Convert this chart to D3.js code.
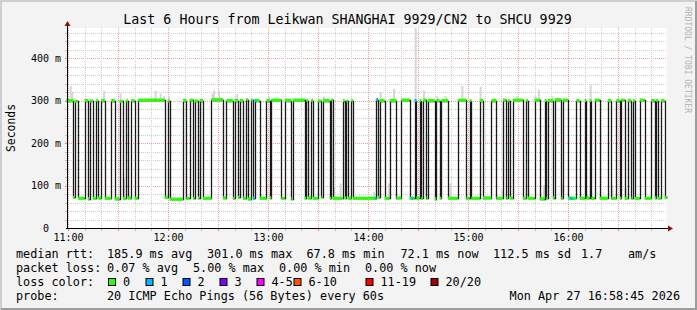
<!DOCTYPE html>
<html>
<head>
<meta charset="utf-8">
<script src="https://cdn.jsdelivr.net/npm/d3@7"></script>
<style>
body { margin: 0; background: #f3f3f3; }
svg { display: block; }
text { font-family: "DejaVu Sans Mono", monospace; fill: #000; }
</style>
</head>
<body>
<script>
const width = 697
const height = 310
const plotLeft = 67
const plotRight = 667
const plotTop = 28
const plotBottom = 228

// minutes after 11:00 where the median changes, and the median from there on (ms)
const stepMinute = [-1, 3, 4, 6, 10, 12, 13, 15, 17, 18,
    20, 22, 26, 28, 31, 33, 35, 36, 38, 40,
    42, 58, 60, 61, 69, 71, 73, 75, 76, 78,
    79, 81, 86, 93, 95, 99, 100, 102, 103, 105,
    107, 108, 110, 111, 112, 115, 119, 121, 122, 128,
    130, 134, 135, 142, 143, 144, 146, 147, 150, 152,
    153, 157, 158, 159, 165, 166, 167, 168, 170, 171,
    185, 186, 187, 190, 193, 197, 200, 205, 208, 209,
    211, 212, 213, 215, 216, 220, 221, 223, 224, 228,
    234, 239, 241, 242, 247, 249, 254, 257, 261, 263,
    264, 265, 267, 273, 275, 276, 280, 283, 286, 287,
    288, 291, 292, 296, 297, 300, 305, 307, 310, 311,
    313, 314, 316, 319, 324, 326, 329, 331, 332, 334,
    336, 338, 339, 340, 343, 346, 350, 352, 353, 354,
    356, 358]
const medianMs = [300, 72, 298, 70, 300, 69, 299, 70, 300, 71,
    300, 70, 300, 69, 298, 70, 299, 71, 300, 70,
    301, 72, 299, 68, 300, 70, 301, 70, 299, 71,
    300, 70, 302, 71, 300, 70, 300, 72, 300, 70,
    302, 69, 301, 70, 300, 70, 300, 71, 301, 70,
    300, 69, 301, 70, 300, 71, 300, 70, 299, 72,
    300, 70, 301, 70, 300, 71, 299, 70, 300, 70,
    302, 72, 300, 70, 300, 71, 301, 70, 300, 71,
    300, 70, 301, 70, 300, 69, 300, 70, 300, 70,
    301, 70, 300, 70, 300, 71, 300, 70, 301, 70,
    300, 71, 301, 70, 300, 70, 301, 69, 300, 70,
    300, 71, 302, 70, 301, 70, 300, 70, 300, 71,
    300, 70, 301, 70, 300, 70, 300, 70, 301, 70,
    300, 70, 300, 70, 301, 70, 300, 71, 300, 70,
    300, 72]
const endMinute = 359.4

// minutes with lost pings
const lossMinute = [111, 112, 184, 185, 206, 208, 301, 302]
const lossCount = [1, 1, 1, 1, 1, 1, 1, 1]

// smoke: highest ping of the minute (ms)
const smokeMinute = [1, 2, 21, 31, 35, 52, 55, 57, 60, 86, 87, 90, 101, 120, 123, 131, 146, 153,
    187, 195, 208, 213, 221, 226, 236, 247, 255, 269, 280, 282, 290, 313, 336, 353,
    33, 159, 163, 183, 192, 229, 260, 285, 296, 326, 334]
const smokeTopMs = [334, 320, 323, 317, 305, 323, 316, 310, 310, 316, 323, 323, 315, 310, 305, 305, 305, 310,
    320, 327, 470, 323, 310, 310, 334, 332, 305, 310, 312, 325, 310, 336, 305, 303,
    117, 97, 105, 85, 105, 105, 89, 101, 101, 101, 93]

const yTicks = [0, 100, 200, 300, 400]
const yTickLabels = ['0', '100 m', '200 m', '300 m', '400 m']
const xTickHours = [11, 12, 13, 14, 15, 16]

const lossLabels = ['0', '1', '2', '3', '4-5', '6-10', '11-19', '20/20']
const lossColors = ['#26ff00', '#00b8ff', '#0059ff', '#7e00ff', '#ff00ff', '#ff5500', '#ff0000', '#a10000']
const lossLabelX = [108, 145.5, 182.5, 219.5, 256.5, 293.5, 365.5, 430.5]

const rttLegend = ['185.9 ms avg', '301.0 ms max', '67.8 ms min', '72.1 ms now', '112.5 ms sd', '1.7', 'am/s']
const rttLegendX = [107, 207, 306.5, 400.5, 493, 581, 628]
const lossLegend = ['0.07 % avg', '5.00 % max', '0.00 % min', '0.00 % now']
const lossLegendX = [107, 193, 279, 365]

const x = d3.scaleLinear().domain([-0.6, endMinute]).range([plotLeft, plotRight])
const y = d3.scaleLinear().domain([0, 470.6]).range([plotBottom, plotTop])
const crisp = v => Math.round(v) + 0.5

const svg = d3.select('body').append('svg')
    .attr('width', width)
    .attr('height', height)

// frame
svg.append('rect').attr('width', width).attr('height', height).attr('fill', '#f3f3f3')
svg.append('path').attr('d', `M1,${height}V1H${width}`).attr('fill', 'none').attr('stroke', '#cfcfcf').attr('stroke-width', 2)
svg.append('path').attr('d', `M1,${height - 1}H${width - 1}V1`).attr('fill', 'none').attr('stroke', '#9c9c9c').attr('stroke-width', 2)

svg.append('rect')
    .attr('x', plotLeft).attr('y', plotTop)
    .attr('width', plotRight - plotLeft).attr('height', plotBottom - plotTop)
    .attr('fill', '#fff')

// grid
const grid = svg.append('g').attr('stroke-dasharray', '1,1').attr('stroke-width', 1)
for (let ms = 20; ms < 470; ms += 20) {
    const major = ms % 100 == 0
    grid.append('line')
        .attr('x1', plotLeft).attr('x2', plotRight)
        .attr('y1', crisp(y(ms))).attr('y2', crisp(y(ms)))
        .attr('stroke', major ? '#f4a0a0' : '#cfcfcf')
}
for (let m = 0; m < endMinute; m += 10) {
    const major = m % 30 == 0
    grid.append('line')
        .attr('x1', crisp(x(m))).attr('x2', crisp(x(m)))
        .attr('y1', plotTop).attr('y2', plotBottom)
        .attr('stroke', major ? '#f4a0a0' : '#cfcfcf')
}

const plot = svg.append('g')

function medianAt(m) {
    let v = medianMs[0]
    stepMinute.forEach((s, i) => { if (s <= m) v = medianMs[i] })
    return v
}

// smoke
plot.selectAll('rect.smoke')
    .data(smokeMinute.map((m, i) => ({m, top: smokeTopMs[i]})))
    .enter().append('rect')
    .attr('class', 'smoke')
    .attr('x', d => x(d.m))
    .attr('width', d => x(d.m + 1.2) - x(d.m))
    .attr('y', d => y(d.top))
    .attr('height', d => y(medianAt(d.m)) - y(d.top))
    .attr('fill', '#d6d6d6')

const points = stepMinute.map((m, i) => ({m, v: medianMs[i]}))
points.push({m: endMinute, v: medianMs[medianMs.length - 1]})

// median line, snapped to whole pixels like rrdtool
plot.append('path')
    .datum(points)
    .attr('d', d3.line().x(d => crisp(x(d.m))).y(d => crisp(y(d.v))).curve(d3.curveStepAfter))
    .attr('fill', 'none')
    .attr('stroke', '#1a1a1a')
    .attr('stroke-width', 1.3)

const swidth = 3.6
plot.selectAll('rect.band')
    .data(points.slice(0, -1))
    .enter().append('rect')
    .attr('class', 'band')
    .attr('x', d => x(d.m))
    .attr('width', (d, i) => x(points[i + 1].m) - x(d.m))
    .attr('y', d => y(d.v + swidth))
    .attr('height', d => y(d.v - swidth) - y(d.v + swidth))
    .attr('fill', lossColors[0])

plot.selectAll('rect.loss')
    .data(lossMinute.map((m, i) => ({m, n: lossCount[i]})))
    .enter().append('rect')
    .attr('class', 'loss')
    .attr('x', d => x(d.m))
    .attr('width', d => x(d.m + 1) - x(d.m))
    .attr('y', d => y(medianAt(d.m) + swidth))
    .attr('height', d => y(0) - y(2 * swidth))
    .attr('fill', d => lossColors[d.n])

// axes
svg.append('line').attr('x1', plotLeft - 1).attr('x2', plotRight + 2)
    .attr('y1', plotBottom + 0.5).attr('y2', plotBottom + 0.5).attr('stroke', '#000')
svg.append('line').attr('x1', plotLeft + 0.5).attr('x2', plotLeft + 0.5)
    .attr('y1', plotBottom + 1).attr('y2', plotTop - 3).attr('stroke', '#000')
svg.append('path').attr('d', `M${plotLeft + 0.5},${plotTop - 7}l-3,5h6z`).attr('fill', '#8a1010')
svg.append('path').attr('d', `M${plotRight + 6},${plotBottom + 0.5}l-5,-3v6z`).attr('fill', '#8a1010')

// small ticks
for (let m = 0; m < endMinute; m += 10) {
    svg.append('line')
        .attr('x1', crisp(x(m))).attr('x2', crisp(x(m)))
        .attr('y1', plotBottom + 1).attr('y2', plotBottom + 3)
        .attr('stroke', m % 30 == 0 ? '#f08080' : '#bbb')
}
for (let ms = 20; ms < 470; ms += 20) {
    svg.append('line')
        .attr('x1', plotLeft - 2).attr('x2', plotLeft)
        .attr('y1', crisp(y(ms))).attr('y2', crisp(y(ms)))
        .attr('stroke', ms % 100 == 0 ? '#f08080' : '#bbb')
}

// labels are right aligned on "400 m"; a bare "0" sits in the digit column
svg.selectAll('text.ytick')
    .data(yTicks)
    .enter().append('text')
    .attr('class', 'ytick')
    .attr('x', d => d == 0 ? 61 - 2 * 6.02 : 61)
    .attr('y', d => y(d) + 3.5)
    .attr('text-anchor', 'end')
    .attr('font-size', 10)
    .text((d, i) => yTickLabels[i])

svg.selectAll('text.xtick')
    .data(xTickHours)
    .enter().append('text')
    .attr('class', 'xtick')
    .attr('x', d => x((d - 11) * 60) + 0.5)
    .attr('y', 240.5)
    .attr('text-anchor', 'middle')
    .attr('font-size', 10)
    .text(d => d + ':00')

// titles
svg.append('text')
    .attr('x', 347.5).attr('y', 24)
    .attr('text-anchor', 'middle')
    .attr('font-size', 13.3)
    .text('Last 6 Hours from Leikwan SHANGHAI 9929/CN2 to SHCU 9929')

svg.append('text')
    .attr('transform', 'translate(15,128) rotate(-90)')
    .attr('text-anchor', 'middle')
    .attr('font-size', 11.4)
    .text('Seconds')

svg.append('text')
    .attr('transform', 'translate(685,60) rotate(90)')
    .attr('text-anchor', 'middle')
    .attr('font-size', 8)
    .style('fill', '#b4b4b4')
    .text('RRDTOOL / TOBI OETIKER')

// legend
const legend = svg.append('g').attr('font-size', 11.8)
legend.append('text').attr('x', 16).attr('y', 258).text('median rtt:')
rttLegend.forEach((t, i) => legend.append('text').attr('x', rttLegendX[i]).attr('y', 258).text(t))
legend.append('text').attr('x', 16).attr('y', 272).text('packet loss:')
lossLegend.forEach((t, i) => legend.append('text').attr('x', lossLegendX[i]).attr('y', 272).text(t))
legend.append('text').attr('x', 16).attr('y', 286).text('loss color:')
lossLabels.forEach((t, i) => {
    legend.append('rect')
        .attr('x', lossLabelX[i] + 0.5).attr('y', 278.5)
        .attr('width', 7).attr('height', 7)
        .attr('fill', lossColors[i]).attr('stroke', '#000')
    legend.append('text').attr('x', lossLabelX[i] + 15).attr('y', 286).text(t)
})
legend.append('text').attr('x', 16).attr('y', 300).text('probe:')
legend.append('text').attr('x', 107).attr('y', 300).text('20 ICMP Echo Pings (56 Bytes) every 60s')
legend.append('text').attr('x', 680).attr('y', 300).attr('text-anchor', 'end').text('Mon Apr 27 16:58:45 2026')
</script>
</body>
</html>
